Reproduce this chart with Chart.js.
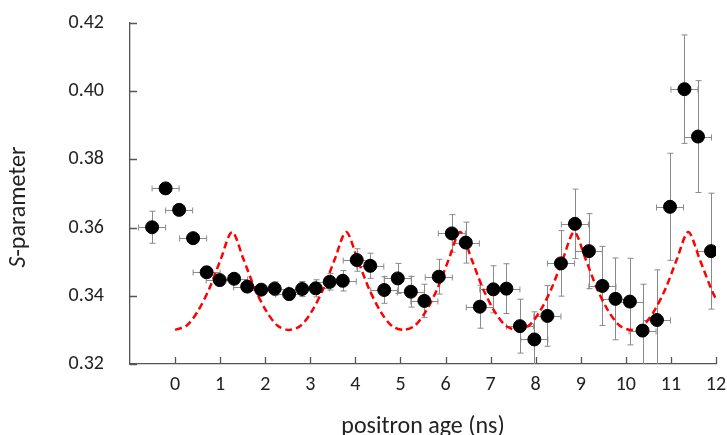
<!DOCTYPE html>
<html lang="en">
<head>
<meta charset="UTF-8">
<title>S-parameter vs positron age</title>
<script src="https://cdn.jsdelivr.net/npm/chart.js"></script>
<style>
    body { margin: 0; background: #fff; }
    #wrap { width: 727px; height: 435px; }
</style>
</head>
<body>
<div id="wrap"><canvas id="myChart"></canvas></div>
<script>
    // measured points (positron age in ns, S-parameter and its error)
    const ageNs = [-0.51, -0.21, 0.09, 0.40, 0.70, 0.99, 1.31, 1.60, 1.91, 2.21,
        2.53, 2.82, 3.12, 3.43, 3.72, 4.03, 4.33, 4.64, 4.94, 5.23,
        5.53, 5.85, 6.14, 6.45, 6.76, 7.06, 7.35, 7.65, 7.97, 8.26,
        8.56, 8.87, 9.18, 9.48, 9.77, 10.09, 10.37, 10.69, 10.98, 11.30,
        11.60, 11.89];
    const sParam = [0.3601, 0.3715, 0.3652, 0.3569, 0.3469, 0.3446, 0.3450, 0.3427, 0.3418, 0.3421,
        0.3405, 0.3420, 0.3422, 0.3441, 0.3444, 0.3505, 0.3488, 0.3417, 0.3451, 0.3412,
        0.3385, 0.3456, 0.3583, 0.3556, 0.3368, 0.3419, 0.3421, 0.3311, 0.3272, 0.3341,
        0.3495, 0.3611, 0.3531, 0.3429, 0.3391, 0.3383, 0.3298, 0.3329, 0.3661, 0.4006,
        0.3867, 0.3531];
    const sErr = [0.0047, 0.0010, 0.0010, 0.0010, 0.0010, 0.0012, 0.0013, 0.0014, 0.0016, 0.0020,
        0.0017, 0.0022, 0.0025, 0.0024, 0.0030, 0.0033, 0.0037, 0.0039, 0.0044, 0.0045,
        0.0049, 0.0051, 0.0055, 0.0060, 0.0063, 0.0069, 0.0073, 0.0079, 0.0081, 0.0089,
        0.0096, 0.0102, 0.0110, 0.0116, 0.0120, 0.0127, 0.0136, 0.0147, 0.0157, 0.0159,
        0.0164, 0.0170];
    const ageErr = 0.3;

    // dashed red model curve
    const curveX = [0, 0.253, 0.506, 0.759, 1.012, 1.265, 1.518, 1.771, 2.024, 2.277,
        2.53, 2.783, 3.036, 3.289, 3.542, 3.795, 4.048, 4.301, 4.554, 4.807,
        5.06, 5.313, 5.566, 5.819, 6.072, 6.325, 6.578, 6.831, 7.084, 7.337,
        7.59, 7.843, 8.096, 8.349, 8.602, 8.855, 9.108, 9.361, 9.614, 9.867,
        10.12, 10.373, 10.626, 10.879, 11.132, 11.385, 11.638, 11.891, 12];
    const curveY = [0.3300, 0.3312, 0.3355, 0.3421, 0.3507, 0.3587, 0.3507, 0.3421, 0.3355, 0.3312,
        0.3300, 0.3312, 0.3355, 0.3421, 0.3507, 0.3587, 0.3507, 0.3421, 0.3355, 0.3312,
        0.3300, 0.3312, 0.3355, 0.3421, 0.3507, 0.3587, 0.3507, 0.3421, 0.3355, 0.3312,
        0.3300, 0.3312, 0.3355, 0.3421, 0.3507, 0.3587, 0.3507, 0.3421, 0.3355, 0.3312,
        0.3300, 0.3312, 0.3355, 0.3421, 0.3507, 0.3587, 0.3507, 0.3421, 0.3390];

    const xTicks = [0, 1, 2, 3, 4, 5, 6, 7, 8, 9, 10, 11, 12];
    const yTicks = [0.32, 0.34, 0.36, 0.38, 0.40, 0.42];

    const FONT = 'Carlito, Calibri, Lato, sans-serif';
    const AXIS = '#555555';

    // error bars, drawn under the dots
    const errorBars = {
        id: 'errorBars',
        beforeDatasetsDraw(chart) {
            const {ctx, chartArea: a, scales: {x, y}} = chart;
            ctx.save();
            ctx.beginPath();
            ctx.rect(a.left, a.top, a.right - a.left, a.bottom - a.top);
            ctx.clip();
            ctx.strokeStyle = '#8a8a8a';
            ctx.lineWidth = 1;
            ctx.beginPath();
            ageNs.forEach((t, i) => {
                const px = Math.round(x.getPixelForValue(t)) + 0.5;
                const py = Math.round(y.getPixelForValue(sParam[i])) + 0.5;
                const yTop = y.getPixelForValue(sParam[i] + sErr[i]);
                const yBot = y.getPixelForValue(sParam[i] - sErr[i]);
                const xL = x.getPixelForValue(t - ageErr);
                const xR = x.getPixelForValue(t + ageErr);
                ctx.moveTo(px, yTop); ctx.lineTo(px, yBot);
                ctx.moveTo(px - 3, yTop); ctx.lineTo(px + 3, yTop);
                ctx.moveTo(px - 3, yBot); ctx.lineTo(px + 3, yBot);
                ctx.moveTo(xL, py); ctx.lineTo(xR, py);
                ctx.moveTo(xL, py - 3); ctx.lineTo(xL, py + 3);
                ctx.moveTo(xR, py - 3); ctx.lineTo(xR, py + 3);
            });
            ctx.stroke();
            ctx.restore();
        }
    };

    // tick marks pointing into the plot, plus the y title with italic S
    const innerTicks = {
        id: 'innerTicks',
        afterDraw(chart) {
            const {ctx, chartArea: a, scales: {x, y}} = chart;
            ctx.save();
            ctx.strokeStyle = AXIS;
            ctx.lineWidth = 1.3;
            ctx.beginPath();
            xTicks.forEach(v => {
                const px = Math.round(x.getPixelForValue(v)) + 0.5;
                ctx.moveTo(px, a.bottom); ctx.lineTo(px, a.bottom - 7);
            });
            yTicks.forEach(v => {
                const py = Math.round(y.getPixelForValue(v)) + 0.5;
                ctx.moveTo(a.left, py); ctx.lineTo(a.left + 7, py);
            });
            ctx.stroke();

            ctx.fillStyle = '#222';
            ctx.translate(y.left + 19, 207);
            ctx.rotate(-Math.PI / 2);
            ctx.textBaseline = 'middle';
            const fItal = 'italic 24px ' + FONT, fNorm = '24px ' + FONT;
            ctx.font = fItal;
            const wS = ctx.measureText('S').width;
            ctx.font = fNorm;
            const wRest = ctx.measureText('-parameter').width;
            let sx = -(wS + wRest) / 2;
            ctx.font = fItal;
            ctx.fillText('S', sx, 0);
            ctx.font = fNorm;
            ctx.fillText('-parameter', sx + wS, 0);
            ctx.restore();
        }
    };

    const ctx = document.getElementById('myChart').getContext('2d');
    const sChart = new Chart(ctx, {
        data: {
            datasets: [{
                type: 'scatter',
                data: ageNs.map((t, i) => ({x: t, y: sParam[i]})),
                backgroundColor: '#000',
                borderColor: '#000',
                pointRadius: 6.5,
                order: 0
            }, {
                type: 'line',
                data: curveX.map((t, i) => ({x: t, y: curveY[i]})),
                borderColor: '#ff0000',
                borderWidth: 2.5,
                borderDash: [7, 4],
                pointRadius: 0,
                tension: 0.3,
                fill: false,
                order: 1
            }]
        },
        options: {
            responsive: true,
            maintainAspectRatio: false,
            animation: false,
            layout: {padding: {top: 23, right: 11, left: 0, bottom: 0}},
            plugins: {legend: {display: false}, tooltip: {enabled: false}},
            scales: {
                x: {
                    type: 'linear',
                    min: -1,
                    max: 12,
                    afterFit(scale) {
                        scale.height = 71;
                        scale.paddingLeft = 0;
                        scale.paddingRight = 0;
                    },
                    grid: {drawOnChartArea: false, drawTicks: false},
                    border: {display: true, color: AXIS, width: 1.3},
                    ticks: {
                        stepSize: 1,
                        padding: 9,
                        color: '#222',
                        font: {size: 20, family: FONT},
                        callback: v => (xTicks.includes(v) ? String(v) : '')
                    },
                    title: {
                        display: true,
                        text: 'positron age (ns)',
                        color: '#222',
                        font: {size: 24, family: FONT},
                        padding: {top: 0, bottom: -6}
                    }
                },
                y: {
                    type: 'linear',
                    min: 0.32,
                    max: 0.42,
                    afterFit(scale) {
                        scale.width = 130;
                        scale.paddingTop = 0;
                        scale.paddingBottom = 0;
                    },
                    grid: {drawOnChartArea: false, drawTicks: false},
                    border: {display: true, color: AXIS, width: 1.3},
                    ticks: {
                        stepSize: 0.02,
                        padding: 26,
                        color: '#222',
                        font: {size: 20, family: FONT},
                        callback: v => v.toFixed(2)
                    }
                }
            }
        },
        plugins: [errorBars, innerTicks]
    });
</script>
</body>
</html>
